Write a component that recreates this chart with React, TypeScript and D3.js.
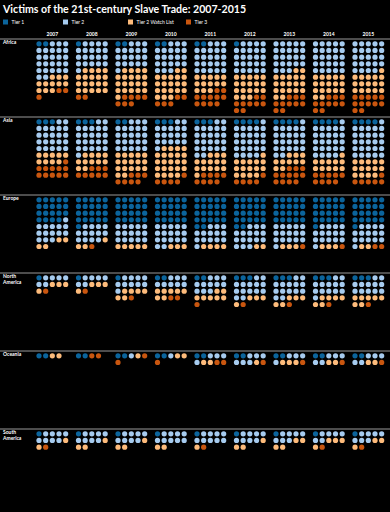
import React from "react";
import * as d3 from "d3";

// one dot per country, read left-to-right, top-to-bottom, 5 per row
// 1 = Tier 1, 2 = Tier 2, w = Tier 2 Watch List, 3 = Tier 3
const years = ["2007", "2008", "2009", "2010", "2011", "2012", "2013", "2014", "2015"];
const regions = ["Africa", "Asia", "Europe", "North America", "Oceania", "South America"];
const tiers = ["Tier 1", "Tier 2", "Tier 2 Watch List", "Tier 3"];
const tierColors = ["#0b649c", "#a6cbef", "#fdbb7b", "#c9560f"];

const africa = [
  "11222 22222 22222 22222 22222 22www wwwww www33 3",
  "12222 22222 22222 22222 2wwww wwwww wwwww wwwww 33",
  "11222 22222 22222 22222 2wwww wwwww wwwww wwwww w3333 333",
  "11222 22222 22222 22222 222ww wwwww wwwww wwwww www33 333",
  "11222 22222 22222 22222 22222 wwwww wwwww www33 33333 3333",
  "12222 22222 22222 22222 22222 wwwww wwwww wwwww www33 33333 33",
  "22222 22222 22222 22222 222ww wwwww wwwww wwwww ww333 33333 33",
  "22222 22222 22222 22222 22222 wwwww wwwww wwwww ww333 33333 33",
  "22222 22222 22222 22222 2222w wwwww wwwww wwwww 33333 33333 33",
];
const asia = [
  "11122 22222 22222 22222 22222 wwwww wwww3 33333 33333",
  "11122 22222 22222 22222 22222 2wwww wwwww ww333 33333",
  "11222 22222 22222 22222 22222 wwwww wwwww wwwww ww333 3333",
  "11122 22222 22222 22222 2wwww wwwww wwwww wwwww wwww3 3333",
  "11122 22222 22222 22222 22222 22www wwwww wwwww w3333 3333",
  "11112 22222 22222 22222 22222 2222w wwwww wwwww wwww3 3333",
  "11112 22222 22222 22222 22222 22www wwwww ww333 33333 3333",
  "11112 22222 22222 22222 22222 2222w wwwww wwwww 33333 3333",
  "11112 22222 22222 22222 22222 22222 wwwww wwwww wwww3 33333",
];
const europe = [
  "11111 11111 11111 11112 22222 22222 222ww ww",
  "11111 11111 11111 11111 12222 22222 2222w ww3",
  "11111 11111 11111 11111 22222 22222 22222 wwwww",
  "11111 11111 11111 11111 22222 22222 22222 22www",
  "11111 11111 11111 11111 11222 22222 22222 2wwww",
  "11111 11111 11111 11111 11222 22222 22222 222ww",
  "11111 11111 11111 11111 22222 22222 22222 2www3",
  "11111 11111 11111 11111 12222 22222 22222 2www3",
  "11111 11111 11111 11111 12222 22222 22222 2ww33",
];
const northAmerica = [
  "12222 22www w3",
  "12222 22www w3",
  "12222 22222 2wwww ww3",
  "11222 22222 wwwww ww33",
  "11222 22222 222ww wwwww 3",
  "11122 22222 22222 22www w3",
  "11122 22222 22222 22www ww3",
  "11122 22222 22222 2wwww ww3",
  "11122 22222 22222 wwwww ww3",
];
const oceania = [
  "11ww",
  "1133",
  "112w3 3",
  "112ww 3",
  "11222 2ww33",
  "11222 222w3",
  "11222 2www3",
  "11222 22ww3",
  "11222 22ww3",
];
const southAmerica = [
  "12222 2222w w3",
  "12222 2222w ww",
  "12222 2222w ww",
  "12222 22222 ww",
  "12222 22222 w3",
  "12222 2222w ww",
  "12222 222ww ww",
  "12222 22www w3",
  "12222 222ww w3",
];

const cellsByRegion = [africa, asia, europe, northAmerica, oceania, southAmerica];
const codeToTier = { "1": 0, "2": 1, w: 2, "3": 3 };

const W = 390;
const H = 512;
const font = "Lato, 'Open Sans', sans-serif";

export default function App() {
  const x = d3.scaleBand().domain(years).range([36, 391.5]);
  const y = d3.scaleBand().domain(regions).range([39, 507]);
  const col = d3.scaleLinear().domain([0, 4]).range([3, 29.67]);
  const row = d3.scaleLinear().domain([0, 1]).range([4.8, 11.47]);
  const legendX = d3.scaleOrdinal().domain(tiers).range([3, 63, 128, 186]);

  const dots = [];
  regions.forEach((region, ri) => {
    years.forEach((year, yi) => {
      const codes = cellsByRegion[ri][yi].replace(/\s/g, "").split("");
      codes.forEach((c, k) => {
        dots.push({
          key: `${region}-${year}-${k}`,
          cx: x(year) + col(k % 5),
          cy: y(region) + row(Math.floor(k / 5)),
          tier: codeToTier[c],
        });
      });
    });
  });

  return (
    <div style={{ position: "fixed", left: 0, top: 0, width: W, height: H, background: "#000" }}>
      <svg width={W} height={H} style={{ display: "block" }} fontFamily={font}>
        <rect width={W} height={H} fill="#000" />
        <text x={3} y={13} fill="#fff" fontSize={10.6} fontWeight={700}>
          Victims of the 21st-century Slave Trade: 2007-2015
        </text>

        {/* legend */}
        {tiers.map((t, i) => (
          <g key={t} transform={`translate(${legendX(t)},19.5)`}>
            <rect width={5} height={5} fill={tierColors[i]} />
            <text x={8.5} y={4.5} fill="#fff" fontSize={5}>
              {t}
            </text>
          </g>
        ))}

        {/* year headers */}
        {years.map((yr) => (
          <text
            key={yr}
            x={x(yr) + col(2)}
            y={36}
            fill="#fff"
            fontSize={5}
            fontWeight={700}
            textAnchor="middle"
          >
            {yr}
          </text>
        ))}

        {/* region rows */}
        {regions.map((r) => (
          <g key={r} transform={`translate(0,${y(r)})`}>
            <line x1={0} x2={W} y1={0} y2={0} stroke="#999" strokeWidth={1} />
            {r.split(" ").map((word, i) => (
              <text key={i} x={3} y={5 + i * 6.3} fill="#fff" fontSize={5} fontWeight={700}>
                {word}
              </text>
            ))}
          </g>
        ))}

        {dots.map((d) => (
          <circle key={d.key} cx={d.cx} cy={d.cy} r={2.6} fill={tierColors[d.tier]} />
        ))}
      </svg>
    </div>
  );
}
